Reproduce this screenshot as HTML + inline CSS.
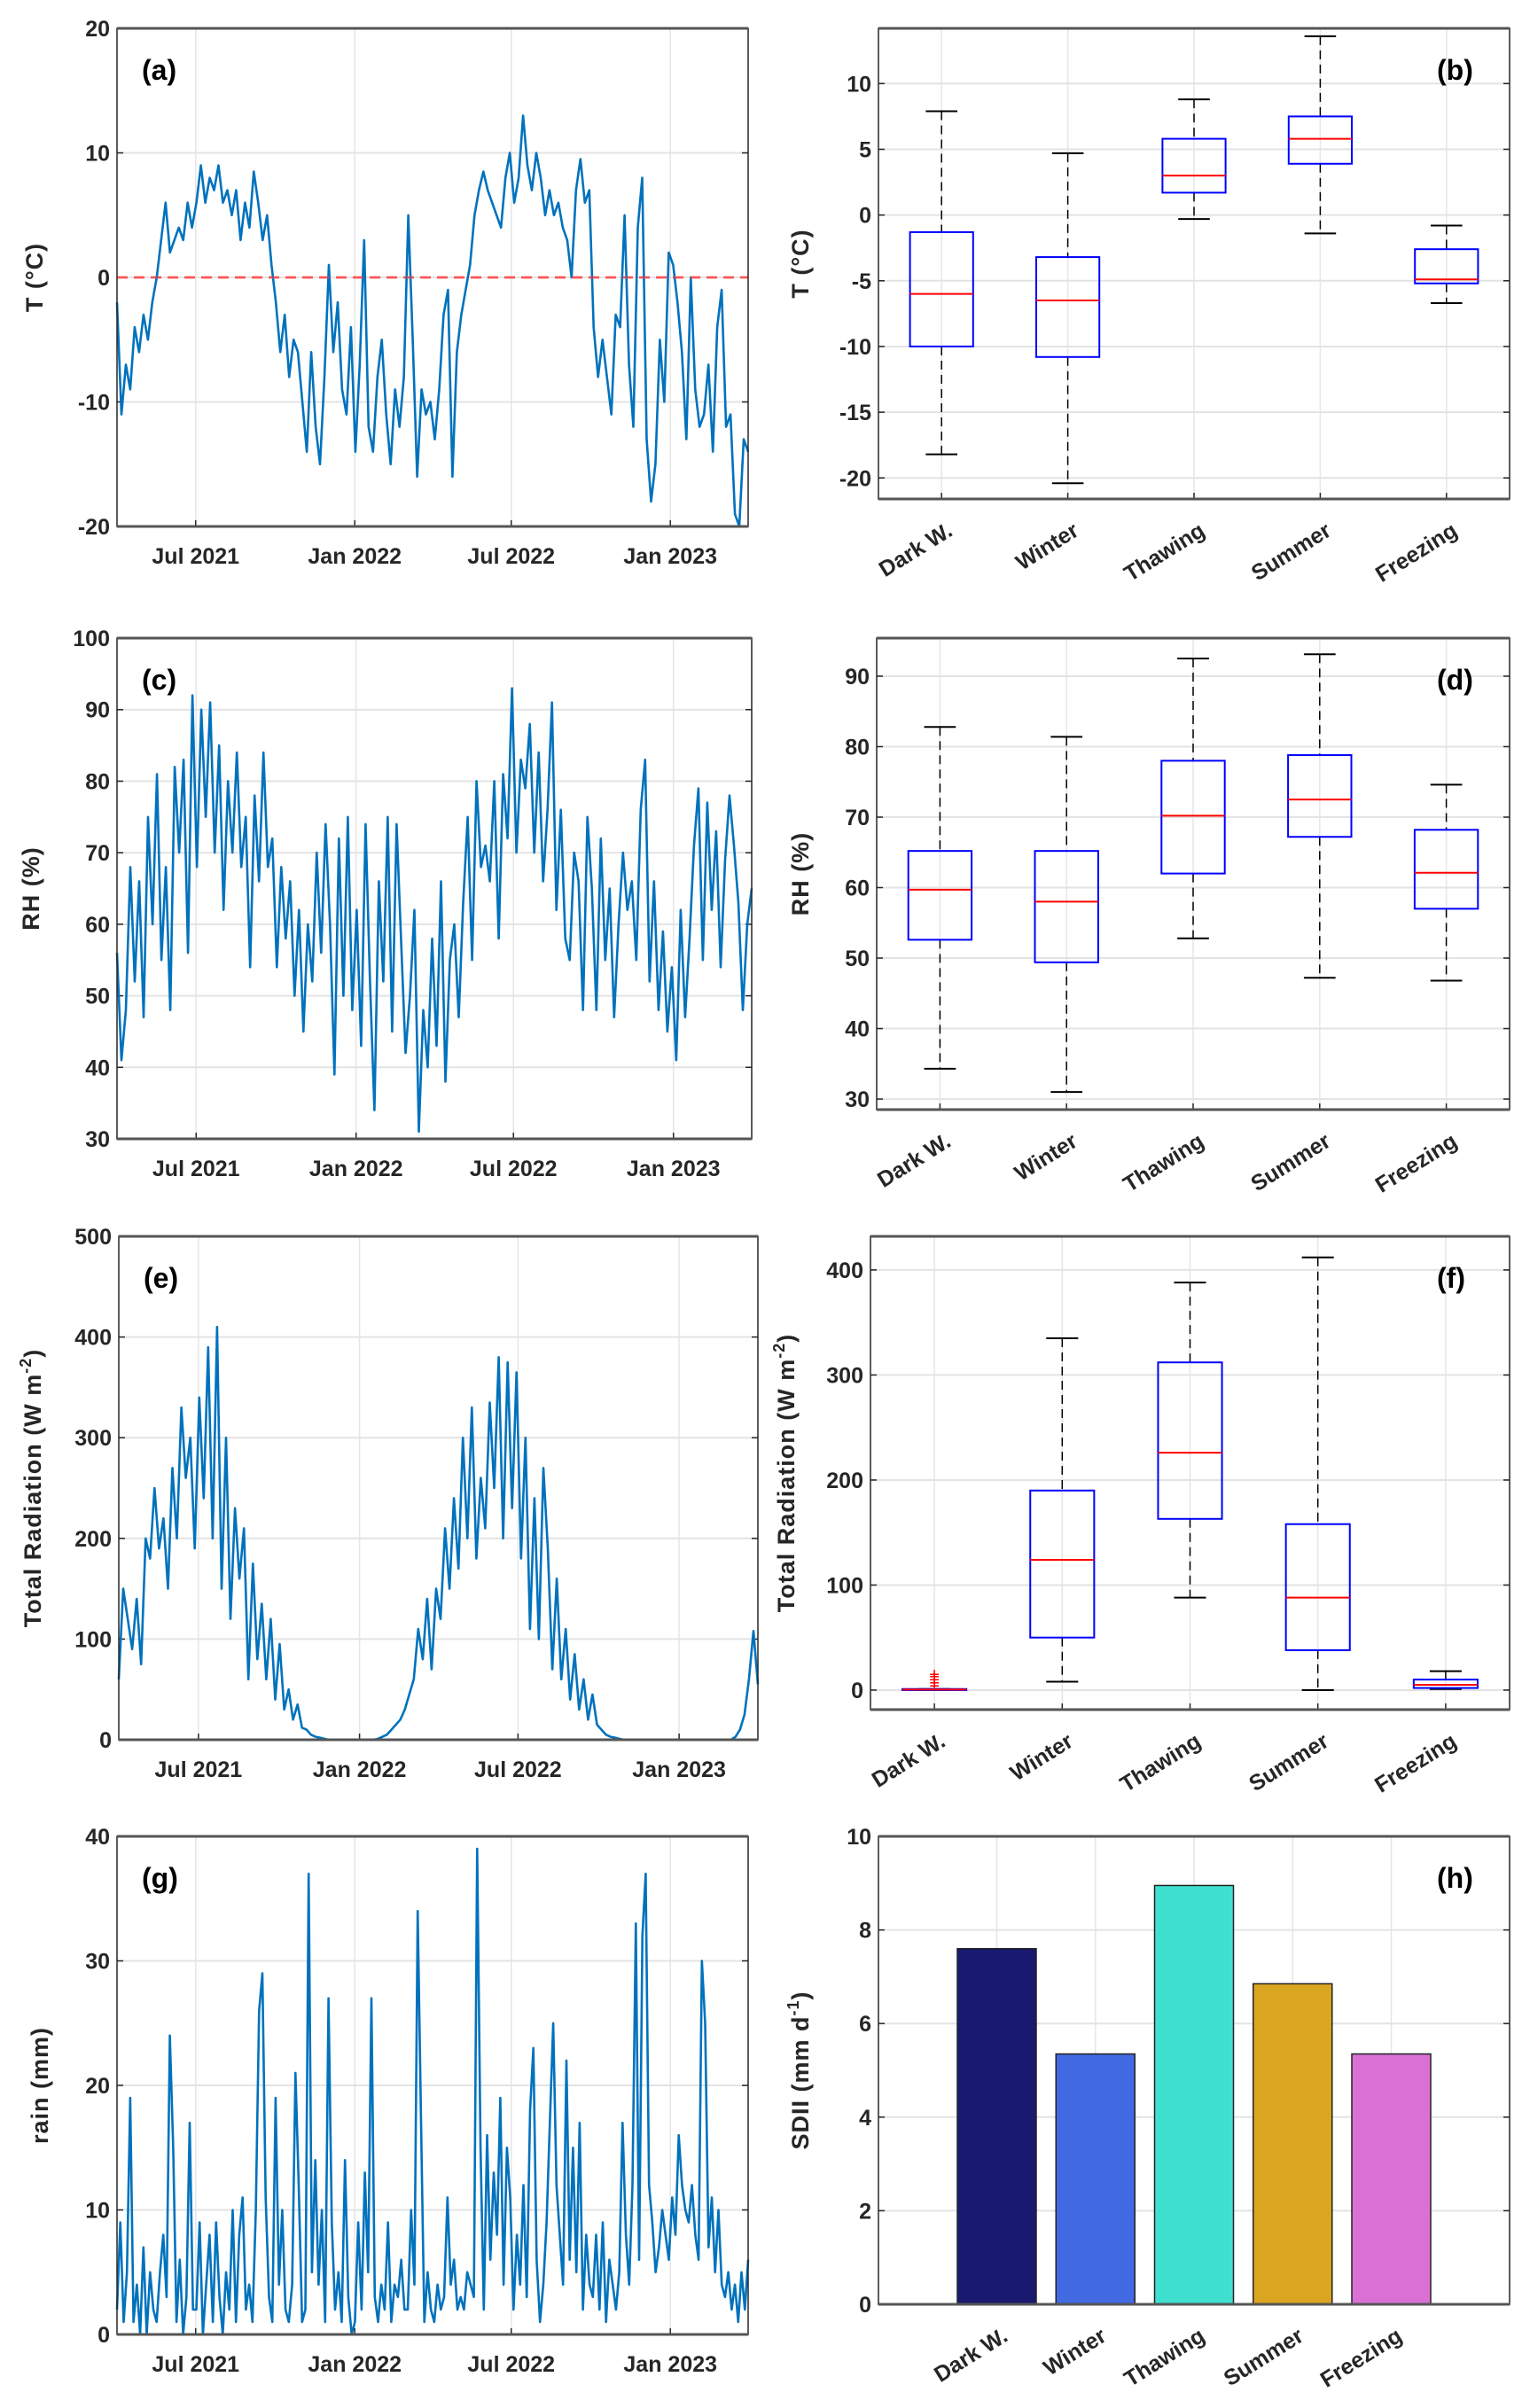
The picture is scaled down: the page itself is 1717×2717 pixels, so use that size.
<!DOCTYPE html>
<html><head><meta charset="utf-8"><style>
html,body{margin:0;padding:0;background:#fff;}
svg{display:block;font-family:"Liberation Sans",Arial,sans-serif;}
</style></head><body>
<svg id="fig" width="1717" height="2717" viewBox="0 0 1717 2717" xmlns="http://www.w3.org/2000/svg"></svg>
<script>
// ---------- DATA ----------
const timeTickLabels = ["Jul 2021","Jan 2022","Jul 2022","Jan 2023"];
const timeTickDays = [91, 275, 456, 640];
const seriesDays = 730;
const tempSeries = [-2,-11,-7,-9,-4,-6, -3,-5,-2,0,3,6, 2,3,4,3,6,4, 6,9,6,8,7,9, 6,7,5,7,3,6, 4,8.5,6,3,5,1,
 -2,-6,-3,-8,-5,-6, -10,-14,-6,-12,-15,-8, 1,-6,-2,-9,-11,-4, -14,-7,3,-12,-14,-8, -5,-11,-15,-9,-12,-8, 5,-5,-16,-9,-11,-10,
 -13,-9,-3,-1,-16,-6, -3,-1,1,5,7,8.5, 7,6,5,4,8,10, 6,8,13,9,7,10, 8,5,7,5,6,4, 3,0,7,9.5,6,7,
 -4,-8,-5,-8,-11,-3, -4,5,-7,-12,4,8, -13,-18,-15,-5,-10,2, 1,-2,-6,-13,0,-9, -12,-11,-7,-14,-4,-1, -12,-11,-19,-20,-13,-14];
const rhSeries = [56,41,48,68,52,66, 47,75,60,81,55,68, 48,82,70,83,56,92, 68,90,75,91,70,85, 62,80,70,84,68,75, 54,78,66,84,68,72,
 54,68,58,66,50,62, 45,60,52,70,56,74, 60,39,72,50,75,48, 62,43,74,52,34,66, 52,75,45,74,58,42, 50,62,31,48,40,58,
 43,66,38,55,60,47, 63,75,55,80,68,71, 66,80,58,81,72,93, 70,83,79,88,70,84, 66,76,91,62,76,58, 55,70,66,48,75,65,
 48,72,55,65,47,60, 70,62,66,55,76,83, 52,66,48,59,45,54, 41,62,47,58,71,79, 55,77,62,73,54,69, 78,71,63,48,60,65];
const radSeries = [60,150,120,90,140,75, 200,180,250,190,220,150, 270,200,330,260,300,190, 340,240,390,200,410,150, 300,120,230,160,210,60, 175,80,135,60,120,40,
 95,30,50,20,35,12, 10,5,3,2,1,0, 0,0,0,0,0,0, 0,0,0,0,1,3, 5,10,15,20,30,45, 60,110,80,140,70,150,
 120,210,150,240,170,300, 200,330,180,260,210,335, 250,380,200,375,230,365, 180,300,110,240,100,270, 190,70,160,60,110,40, 85,30,60,20,45,15,
 10,5,3,2,1,0, 0,0,0,0,0,0, 0,0,0,0,0,0, 0,0,0,0,0,0, 0,0,0,0,0,0, 3,10,25,60,108,55];
const rainSeries = [2,9,1,5,19,1,4,0, 7,0,5,2,1,5,8,3, 24,15,1,6,0,3,17,2, 2,9,0,4,8,1,9,3, 0,5,2,10,1,8,11,2, 4,1,10,26,29,11,3,1,
 19,4,10,2,1,4,21,12, 1,2,37,5,14,4,10,1, 27,9,2,5,1,14,3,0, 1,9,2,13,5,27,3,1, 4,2,9,1,4,3,6,2, 2,10,4,34,17,1,5,2,
 1,4,2,3,11,4,6,2, 3,2,5,4,3,39,15,2, 16,6,13,8,19,4,15,11, 2,8,4,12,3,18,23,6, 1,4,9,17,25,12,8,4, 22,6,15,5,17,2,8,4,
 3,8,2,9,1,6,4,2, 5,17,8,4,12,33,6,32, 37,12,9,5,7,10,8,6, 11,8,16,12,10,9,12,8, 6,30,25,7,11,5,10,4, 3,5,2,4,1,5,2,6];
const seasons = ["Dark W.","Winter","Thawing","Summer","Freezing"];
const tempBoxLow = [-18.2,-20.4,-0.3,-1.4,-6.7];
const tempBoxQ1 = [-10,-10.8,1.7,3.9,-5.2];
const tempBoxMed = [-6,-6.5,3,5.8,-4.9];
const tempBoxQ3 = [-1.3,-3.2,5.8,7.5,-2.6];
const tempBoxHigh = [7.9,4.7,8.8,13.6,-0.8];
const rhBoxLow = [34.3,31,52.8,47.2,46.8];
const rhBoxQ1 = [52.6,49.4,62,67.2,57];
const rhBoxMed = [59.7,58,70.2,72.5,62.1];
const rhBoxQ3 = [65.2,65.2,78,78.8,68.2];
const rhBoxHigh = [82.8,81.4,92.5,93.1,74.6];
const radBoxLow = [0,8,88,0,1];
const radBoxQ1 = [0,50,163,38,2];
const radBoxMed = [0.5,124,226,88,5];
const radBoxQ3 = [1,190,312,158,10];
const radBoxHigh = [1,335,388,412,18];
const radOutliers = [4,7,10,13,15];
const sdiiValues = [7.6,5.35,8.95,6.85,5.35];
const sdiiColors = ["#191970","#4169E1","#40E0D0","#DAA520","#DA70D6"];

// ---------- helpers ----------
const NS="http://www.w3.org/2000/svg";
const svg=document.getElementById('fig');
function mk(tag, attrs, parent){const e=document.createElementNS(NS,tag);for(const k in attrs)e.setAttribute(k,attrs[k]);(parent||svg).appendChild(e);return e;}
function lin(d0,d1,r0,r1){return v=>r0+(v-d0)*(r1-r0)/(d1-d0);}

function frame(p,name){
  const g=mk('g',{});
  
  
  mk('rect',{x:p.L,y:p.T,width:p.R-p.L,height:p.B-p.T,fill:'#fff'},g);
  return g;
}
function yAxis(g,p,y,ticks){
  ticks.forEach(t=>{
    const yy=y(t);
    const gl=mk('line',{x1:p.L,x2:p.R,y1:yy,y2:yy,stroke:'#e3e3e3','stroke-width':2},g);
    
    
    mk('line',{x1:p.L,x2:p.L+7,y1:yy,y2:yy,stroke:'#262626','stroke-width':1.5},g);
    mk('line',{x1:p.R,x2:p.R-7,y1:yy,y2:yy,stroke:'#262626','stroke-width':1.5},g);
    const tx=mk('text',{x:p.L-8,y:yy+9,'text-anchor':'end','font-size':25,'font-weight':'bold',fill:'#262626'},g);
    tx.textContent=t;
    
    
  });
}
function box(g,p){
  mk('rect',{x:p.L,y:p.T,width:p.R-p.L,height:p.B-p.T,fill:'none',stroke:'#262626','stroke-width':1.5},g);
  mk('line',{x1:p.L,x2:p.R,y1:p.T,y2:p.T,stroke:'#555','stroke-width':3},g);
  mk('line',{x1:p.L,x2:p.R,y1:p.B,y2:p.B,stroke:'#555','stroke-width':3},g);
}
function panelLabel(g,x,y,txt){
  const t=mk('text',{x:x,y:y,'font-size':32,'font-weight':'bold',fill:'#000'},g);
  t.textContent=txt;
  
  
}
function yTitle(g,x,y,parts){
  const t=mk('text',{x:x,y:y,'text-anchor':'middle','font-size':27,'font-weight':'bold',fill:'#262626','letter-spacing':'1',transform:`rotate(-90 ${x} ${y})`},g);
  parts.forEach(pt=>{const s=mk('tspan',pt.sup?{'font-size':18,dy:-11}:(pt.down?{dy:11}:{}),t);s.textContent=pt.t;});
  
  
}

function timePanel(p,series,ylo,yhi,ticks,name,label,title,titleX,zeroLine){
  const g=frame(p,name);
  const x=lin(0,seriesDays,p.L,p.R), y=lin(ylo,yhi,p.B,p.T);
  timeTickDays.forEach((d,i)=>{
    const xx=x(d);
    mk('line',{x1:xx,x2:xx,y1:p.T,y2:p.B,stroke:'#e6e6e6','stroke-width':1.5},g);
    mk('line',{x1:xx,x2:xx,y1:p.B,y2:p.B-7,stroke:'#262626','stroke-width':1.5},g);
    const t=mk('text',{x:xx,y:p.B+42,'text-anchor':'middle','font-size':25,'font-weight':'bold',fill:'#262626'},g);
    t.textContent=timeTickLabels[i];
    
    
  });
  yAxis(g,p,y,ticks);
  if(zeroLine){
    const z=mk('line',{x1:p.L,x2:p.R,y1:y(0),y2:y(0),stroke:'#FF5050','stroke-width':2.5,'stroke-dasharray':'12 7'},g);
    
    
  }
  const n=series.length;
  const pts=series.map((v,i)=>`${x(i*seriesDays/(n-1)).toFixed(1)},${y(v).toFixed(1)}`).join(' ');
  const pl=mk('polyline',{points:pts,fill:'none',stroke:'#0072BD','stroke-width':2.6,'stroke-linejoin':'round'},g);
  
  
  if(zeroLine){
    const z2=mk('line',{x1:p.L,x2:p.R,y1:y(0),y2:y(0),stroke:'#FF5050','stroke-width':2.5,'stroke-dasharray':'12 7','opacity':0.5},g);
  }
  box(g,p);
  panelLabel(g,p.L+28,p.T+58,label);
  yTitle(g,titleX,(p.T+p.B)/2,title);
}

function catX(p,lo,hi){return lin(lo,hi,p.L,p.R);}
function catLabels(g,p,x){
  seasons.forEach((s,i)=>{
    const xx=x(i+1);
    const ty=p.B+26;
    const t=mk('text',{x:xx+14,y:ty+14,'text-anchor':'end','font-size':25,'font-weight':'bold',fill:'#262626',transform:`rotate(-32 ${xx+14} ${ty+14})`},g);
    t.textContent=s;
    
    
  });
}
function boxPanel(p,lo,q1,med,q3,hi,ylo,yhi,ticks,name,label,title,titleX,outliers){
  const g=frame(p,name);
  const x=catX(p,0.5,5.5), y=lin(ylo,yhi,p.B,p.T);
  seasons.forEach((s,i)=>{const xx=x(i+1);
    mk('line',{x1:xx,x2:xx,y1:p.T,y2:p.B,stroke:'#e6e6e6','stroke-width':1.5},g);
    mk('line',{x1:xx,x2:xx,y1:p.B,y2:p.B-7,stroke:'#262626','stroke-width':1.5},g);});
  yAxis(g,p,y,ticks);
  const hw=(x(1.25)-x(1));
  seasons.forEach((s,i)=>{
    const xx=x(i+1);
    const bg=mk('g',{},g);
    
    
    mk('line',{x1:xx,x2:xx,y1:y(hi[i]),y2:y(q3[i]),stroke:'#000','stroke-width':1.5,'stroke-dasharray':'10 6'},bg);
    mk('line',{x1:xx,x2:xx,y1:y(q1[i]),y2:y(lo[i]),stroke:'#000','stroke-width':1.5,'stroke-dasharray':'10 6'},bg);
    mk('line',{x1:xx-hw/2,x2:xx+hw/2,y1:y(hi[i]),y2:y(hi[i]),stroke:'#000','stroke-width':2},bg);
    mk('line',{x1:xx-hw/2,x2:xx+hw/2,y1:y(lo[i]),y2:y(lo[i]),stroke:'#000','stroke-width':2},bg);
    mk('rect',{x:xx-hw,y:y(q3[i]),width:2*hw,height:Math.max(1,y(q1[i])-y(q3[i])),fill:'none',stroke:'#0000FF','stroke-width':2},bg);
    mk('line',{x1:xx-hw,x2:xx+hw,y1:y(med[i]),y2:y(med[i]),stroke:'#FF0000','stroke-width':2},bg);
  });
  if(outliers){
    outliers.forEach(v=>{
      const m=mk('text',{x:x(1),y:y(v)+7,'text-anchor':'middle','font-size':20,fill:'#FF0000'},g);
      m.textContent='+';
      
      
    });
  }
  box(g,p);
  catLabels(g,p,x);
  panelLabel(g,p.R-82,p.T+58,label);
  yTitle(g,titleX,(p.T+p.B)/2,title);
}

// ---------- panels ----------
timePanel({L:132,R:844,T:32,B:594},tempSeries,-20,20,[-20,-10,0,10,20],'panel-a-temperature-series','(a)',[{t:'T (°C)'}],48,true);
boxPanel({L:991,R:1703,T:32,B:563},tempBoxLow,tempBoxQ1,tempBoxMed,tempBoxQ3,tempBoxHigh,-21.6,14.2,[-20,-15,-10,-5,0,5,10],'panel-b-temperature-boxplot','(b)',[{t:'T (°C)'}],912);
timePanel({L:132,R:848,T:720,B:1285},rhSeries,30,100,[30,40,50,60,70,80,90,100],'panel-c-rh-series','(c)',[{t:'RH (%)'}],44);
boxPanel({L:989,R:1703,T:720,B:1252},rhBoxLow,rhBoxQ1,rhBoxMed,rhBoxQ3,rhBoxHigh,28.5,95.4,[30,40,50,60,70,80,90],'panel-d-rh-boxplot','(d)',[{t:'RH (%)'}],912);
timePanel({L:134,R:855,T:1395,B:1963},radSeries,0,500,[0,100,200,300,400,500],'panel-e-radiation-series','(e)',[{t:'Total Radiation (W m'},{t:'-2',sup:true},{t:')',down:true}],46);
boxPanel({L:982,R:1703,T:1395,B:1929},radBoxLow,radBoxQ1,radBoxMed,radBoxQ3,radBoxHigh,-18.6,432,[0,100,200,300,400],'panel-f-radiation-boxplot','(f)',[{t:'Total Radiation (W m'},{t:'-2',sup:true},{t:')',down:true}],896,radOutliers);
timePanel({L:132,R:844,T:2072,B:2634},rainSeries,0,40,[0,10,20,30,40],'panel-g-rain-series','(g)',[{t:'rain (mm)'}],54);

// panel h bars
(function(){
  const p={L:991,R:1703,T:2072,B:2600};
  const g=frame(p,'panel-h-sdii-bars');
  const x=catX(p,-0.2,6.2), y=lin(0,10,p.B,p.T);
  seasons.forEach((s,i)=>{const xx=x(i+1);
    mk('line',{x1:xx,x2:xx,y1:p.T,y2:p.B,stroke:'#e6e6e6','stroke-width':1.5},g);
    mk('line',{x1:xx,x2:xx,y1:p.B,y2:p.B-7,stroke:'#262626','stroke-width':1.5},g);});
  yAxis(g,p,y,[0,2,4,6,8,10]);
  const bw=x(1.4)-x(1);
  sdiiValues.forEach((v,i)=>{
    const r=mk('rect',{x:x(i+1)-bw,y:y(v),width:2*bw,height:y(0)-y(v),fill:sdiiColors[i],stroke:'#222','stroke-width':1.5},g);
    
    
  });
  box(g,p);
  seasons.forEach((s,i)=>{
    const xx=x(i+1), ty=p.B+26;
    const t=mk('text',{x:xx+14,y:ty+14,'text-anchor':'end','font-size':25,'font-weight':'bold',fill:'#262626',transform:`rotate(-32 ${xx+14} ${ty+14})`},g);
    t.textContent=s;
    
    
  });
  panelLabel(g,p.R-82,p.T+58,'(h)');
  yTitle(g,912,(p.T+p.B)/2,[{t:'SDII (mm d'},{t:'-1',sup:true},{t:')',down:true}]);
})();
</script>
</body></html>
